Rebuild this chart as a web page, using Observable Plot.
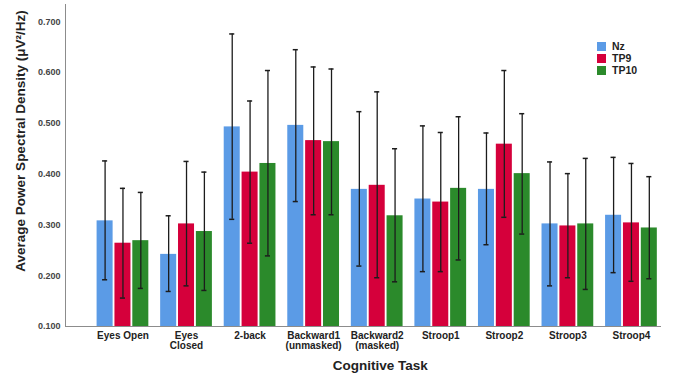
<!DOCTYPE html>
<html>
<head>
<meta charset="utf-8">
<script src="https://cdn.jsdelivr.net/npm/d3@7"></script>
<script src="https://cdn.jsdelivr.net/npm/@observablehq/plot@0.6"></script>
<style>
  body { margin: 0; background: #fff; }
  #chart { position: relative; width: 673px; height: 379px; font-family: Arial, "Liberation Sans", sans-serif; }
  #legend { position: absolute; left: 597px; top: 40px; }
  #legend .item { display: flex; align-items: center; height: 12px; font-size: 10.5px; font-weight: bold; color: #222; }
  #legend .swatch { width: 9px; height: 9px; margin-right: 6px; }
</style>
</head>
<body>
<div id="chart"><div id="legend"></div></div>
<script>
// Cognitive tasks (x groups) and their axis labels
const tasks = ["Eyes Open", "Eyes Closed", "2-back", "Backward1", "Backward2", "Stroop1", "Stroop2", "Stroop3", "Stroop4"];
const taskLabels = ["Eyes Open", "Eyes\nClosed", "2-back", "Backward1\n(unmasked)", "Backward2\n(masked)", "Stroop1", "Stroop2", "Stroop3", "Stroop4"];

// Electrode channels (series)
const channels = ["Nz", "TP9", "TP10"];
const channelColors = ["#5b9be6", "#d5003b", "#2b8a2b"];

// Mean power spectral density per task (µV²/Hz)
const meanNz   = [0.308, 0.242, 0.493, 0.496, 0.370, 0.351, 0.370, 0.302, 0.319];
const meanTP9  = [0.264, 0.302, 0.404, 0.466, 0.378, 0.345, 0.459, 0.298, 0.304];
const meanTP10 = [0.269, 0.287, 0.421, 0.464, 0.318, 0.372, 0.401, 0.302, 0.294];

// Error bar bounds
const lowNz    = [0.192, 0.169, 0.311, 0.346, 0.219, 0.208, 0.261, 0.180, 0.206];
const highNz   = [0.426, 0.318, 0.676, 0.645, 0.523, 0.495, 0.481, 0.424, 0.433];
const lowTP9   = [0.156, 0.180, 0.264, 0.320, 0.196, 0.208, 0.315, 0.196, 0.189];
const highTP9  = [0.372, 0.425, 0.544, 0.611, 0.562, 0.482, 0.604, 0.401, 0.421];
const lowTP10  = [0.175, 0.171, 0.239, 0.320, 0.188, 0.231, 0.282, 0.173, 0.194];
const highTP10 = [0.364, 0.404, 0.604, 0.607, 0.450, 0.513, 0.519, 0.431, 0.395];

// Y axis ticks and titles
const yTicks = [0.1, 0.2, 0.3, 0.4, 0.5, 0.6, 0.7];
const xTitle = "Cognitive Task";
const yTitle = "Average Power Spectral Density (\u03BCV\u00B2/Hz)";

const means = [meanNz, meanTP9, meanTP10];
const lows = [lowNz, lowTP9, lowTP10];
const highs = [highNz, highTP9, highTP10];

// Group layout in task-index units: bar spacing, bar half-width, cap half-width
const barSpacing = 0.281, barHalf = 0.126, capHalf = 0.04;

const rows = [];
tasks.forEach((task, i) => {
  channels.forEach((channel, j) => {
    const center = i + (j - 1) * barSpacing;
    rows.push({task, channel, center, mean: means[j][i], low: lows[j][i], high: highs[j][i]});
  });
});

const ink = "#1c1c1c";
const axisGray = "#8c8c8c";
const font = "Arial, 'Liberation Sans', sans-serif";

const chart = Plot.plot({
  width: 673,
  height: 379,
  marginTop: 4,
  marginRight: 13,
  marginBottom: 53,
  marginLeft: 65,
  style: {fontFamily: font, background: "#fff", overflow: "visible"},
  x: {type: "linear", domain: [-0.904, 8.457], axis: null},
  y: {domain: [0.1, 0.734], axis: null},
  color: {domain: channels, range: channelColors},
  marks: [
    Plot.rectY(rows, {x1: (d) => d.center - barHalf, x2: (d) => d.center + barHalf, y1: 0.1, y2: "mean", fill: "channel"}),
    Plot.ruleX(rows, {x: "center", y1: "low", y2: "high", stroke: ink, strokeWidth: 1.3}),
    Plot.ruleY(rows, {y: "high", x1: (d) => d.center - capHalf, x2: (d) => d.center + capHalf, stroke: ink, strokeWidth: 1.5}),
    Plot.ruleY(rows, {y: "low", x1: (d) => d.center - capHalf, x2: (d) => d.center + capHalf, stroke: ink, strokeWidth: 1.5}),
    Plot.axisX({ticks: tasks.map((_, i) => i), tickFormat: (i) => taskLabels[i], tickSize: 0, tickPadding: 5, fontSize: 10, fontWeight: "bold", fill: "#222", lineHeight: 1.0, label: null}),
    Plot.axisY({ticks: yTicks, tickFormat: (d) => d.toFixed(3), tickSize: 0, tickPadding: 5, fontSize: 9, fontWeight: "bold", fill: "#444", label: null, letterSpacing: "0.4px"}),
    Plot.frame({anchor: "bottom", stroke: axisGray, strokeWidth: 1}),
    Plot.frame({anchor: "left", stroke: axisGray, strokeWidth: 1}),
    Plot.text([xTitle], {x: (tasks.length - 1) / 2, frameAnchor: "bottom", dx: 3, dy: 43, fontSize: 13.5, fontWeight: "bold", fill: "#222"}),
    Plot.text([yTitle], {frameAnchor: "left", textAnchor: "middle", dx: -45, dy: -24.5, rotate: -90, fontSize: 13.5, fontWeight: "bold", fill: "#222"})
  ]
});

const container = document.getElementById("chart");
container.insertBefore(chart, container.firstChild);

// In-plot legend for the channels
const legend = d3.select("#legend");
channels.forEach((c, i) => {
  const item = legend.append("div").attr("class", "item");
  item.append("div").attr("class", "swatch").style("background", channelColors[i]);
  item.append("span").text(c);
});
</script>
</body>
</html>
